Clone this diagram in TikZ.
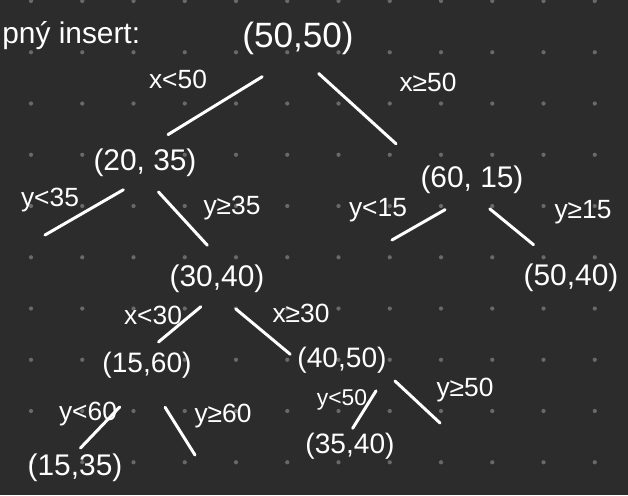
\documentclass[tikz,border=0pt]{standalone}
\usepackage{fontspec}
\setmainfont{Liberation Sans}
\definecolor{tabule}{RGB}{44,44,44}
\definecolor{tecka}{RGB}{105,105,105}
\begin{document}
\begin{tikzpicture}[x=0.02cm, y=-0.02cm,
    kdnode/.style={inner sep=0pt, text=white, font=\fontsize{17}{17}\selectfont},
    kdsmall/.style={kdnode, font=\fontsize{16}{16}\selectfont},
    lbl/.style={inner sep=0pt, text=white, font=\fontsize{15}{15}\selectfont},
    edge/.style={white, line width=1.7pt, line cap=round}]
    % Pozadí s mřížkou bodů
    \fill[tabule] (0,0) rectangle (628,495);
    \useasboundingbox (0,0) rectangle (628,495);
    \clip (0,0) rectangle (628,495);
    \foreach \i in {0,...,11} {
      \foreach \j in {0,...,9} {
        \fill[tecka] (31+51.25*\i, 1+51.25*\j) circle (1.2pt);
      }
    }

    % Nadpis
    \node[lbl, font=\fontsize{17}{17}\selectfont, anchor=base west] (nadpis)
         at (2,43) {pný insert:};

    % Uzly stromu
    \node[kdnode, font=\fontsize{20}{20}\selectfont] (root) at (298,38) {(50,50)};
    \node[kdnode] (n2035) at (145,163) {(20, 35)};
    \node[kdnode] (n6015) at (472,180) {(60, 15)};
    \node[kdnode] (n3040) at (217,279) {(30,40)};
    \node[kdnode] (n5040) at (571,278) {(50,40)};
    \node[kdsmall] (n1560) at (147,365) {(15,60)};
    \node[kdnode] (n1535) at (75,468) {(15,35)};
    \node[kdsmall] (n4050) at (342,360) {(40,50)};
    \node[kdsmall] (n3540) at (350,446) {(35,40)};

    % Prázdné větve
    \coordinate (null2035) at (45,235);
    \coordinate (null6015) at (392,240);
    \coordinate (null1560) at (195,455);
    \coordinate (null4050) at (440,423);

    % Hrany
    \draw[edge, shorten <=0.84cm, shorten >=0.54cm] (root.south) -- (n2035.north);
    \draw[edge, shorten <=0.56cm, shorten >=0.65cm] (root.south) -- (n6015.north west);
    \draw[edge, shorten <=0.5cm] (n2035.south) -- (null2035);
    \draw[edge, shorten <=0.4cm, shorten >=0.53cm] (n2035.south) -- (n3040.60);
    \draw[edge, shorten <=0.62cm] (n6015.south) -- (null6015);
    \draw[edge, shorten <=0.46cm, shorten >=0.6cm] (n6015.south) -- (n5040.135);
    \draw[edge, shorten <=0.42cm, shorten >=0.3cm] (n3040.south) -- (n1560.north);
    \draw[edge, shorten <=0.49cm, shorten >=0.18cm] (n3040.south) -- (n4050.west);
    \draw[edge, shorten <=0.79cm, shorten >=0.16cm] (n1560.south) -- (n1535.north);
    \draw[edge, shorten <=0.68cm] (n1560.south) -- (null1560);
    \draw[edge, shorten <=0.41cm, shorten >=0.1cm] (n4050.south east) -- (n3540.north);
    \draw[edge, shorten <=0.22cm] (n4050.south east) -- (null4050);

    % Popisky hran
    \node[lbl] (lx50) at (178,79) {x<50};
    \node[lbl] (gx50) at (428,82) {x≥50};
    \node[lbl] (ly35) at (50,200) {y<35};
    \node[lbl] (gy35) at (232,208) {y≥35};
    \node[lbl] (ly15) at (378,210) {y<15};
    \node[lbl] (gy15) at (583,212) {y≥15};
    \node[lbl] (lx30) at (153,315) {x<30};
    \node[lbl] (gx30) at (301,313) {x≥30};
    \node[lbl] (ly60) at (88,414) {y<60};
    \node[lbl] (gy60) at (223,416) {y≥60};
    \node[lbl, font=\fontsize{13}{13}\selectfont] (ly50) at (342,400) {y<50};
    \node[lbl] (gy50) at (465,390) {y≥50};
\end{tikzpicture}
\end{document}
